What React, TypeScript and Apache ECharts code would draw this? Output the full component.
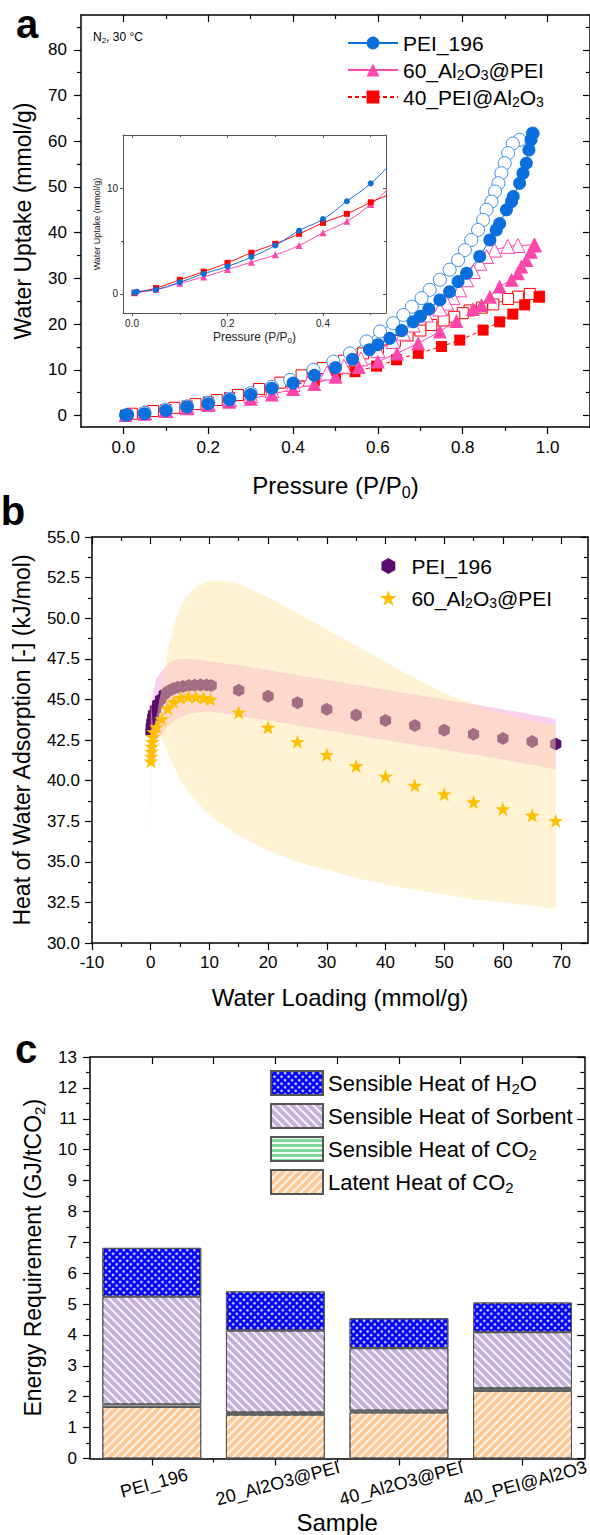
import React, { useEffect, useRef } from 'react';
import * as echarts from 'echarts';

const FONT = "'Liberation Sans', Arial, Helvetica, sans-serif";

// ---------------- Panel a : water isotherms ----------------
const pei196AdsP = [0.005, 0.01, 0.05, 0.1, 0.15, 0.2, 0.25, 0.3, 0.35, 0.4, 0.45, 0.5, 0.54, 0.58, 0.6, 0.628, 0.656, 0.683, 0.7, 0.72, 0.746, 0.769, 0.789, 0.809, 0.84, 0.864, 0.879, 0.887, 0.903, 0.915, 0.919, 0.934, 0.942, 0.95, 0.956, 0.961, 0.965];
const pei196AdsU = [0.1, 0.2, 0.4, 1.1, 1.9, 2.6, 3.5, 4.6, 6.0, 7.1, 8.8, 10.5, 12.3, 14.4, 15.5, 16.9, 18.6, 20.5, 21.7, 23.3, 25.3, 27.1, 29.3, 31.1, 34.8, 38.4, 40.6, 42.0, 45.0, 46.8, 47.9, 50.8, 53.0, 55.2, 58.1, 60.3, 61.7];
const pei196DesP = [0.965, 0.934, 0.918, 0.907, 0.899, 0.891, 0.884, 0.876, 0.868, 0.856, 0.848, 0.836, 0.82, 0.805, 0.789, 0.769, 0.746, 0.722, 0.703, 0.68, 0.66, 0.636, 0.605, 0.573, 0.534, 0.495, 0.448, 0.393, 0.35, 0.3, 0.25, 0.2, 0.15, 0.1, 0.05];
const pei196DesU = [61.7, 60.3, 59.5, 57.4, 55.2, 53.0, 50.8, 49.0, 46.8, 45.0, 42.8, 40.6, 38.4, 36.2, 34.0, 31.9, 29.7, 27.5, 25.7, 23.8, 22.0, 20.2, 18.4, 16.2, 13.6, 11.8, 10.0, 7.8, 6.3, 4.9, 3.7, 2.8, 2.0, 1.3, 0.6];

const al60AdsP = [0.005, 0.05, 0.1, 0.15, 0.2, 0.25, 0.3, 0.35, 0.4, 0.45, 0.5, 0.555, 0.6, 0.645, 0.695, 0.746, 0.785, 0.824, 0.844, 0.864, 0.887, 0.915, 0.93, 0.938, 0.95, 0.961, 0.969];
const al60AdsU = [0.1, 0.4, 1.0, 1.6, 2.3, 3.0, 3.7, 4.6, 5.8, 6.9, 8.5, 10.6, 11.8, 13.6, 15.8, 18.4, 20.7, 23.3, 24.2, 26.0, 28.2, 29.7, 31.1, 32.6, 34.0, 35.8, 37.3];
const al60DesP = [0.969, 0.93, 0.906, 0.875, 0.856, 0.84, 0.825, 0.809, 0.793, 0.777, 0.762, 0.746, 0.714, 0.683, 0.66, 0.636, 0.6, 0.56, 0.52, 0.48, 0.44, 0.4, 0.35, 0.3, 0.25, 0.2, 0.15, 0.1, 0.05];
const al60DesU = [37.3, 37.2, 37.0, 36.2, 34.8, 33.3, 31.5, 29.7, 27.5, 25.8, 24.6, 23.3, 22.0, 19.8, 18.0, 16.2, 14.2, 12.4, 10.8, 9.3, 8.0, 6.8, 5.5, 4.4, 3.4, 2.6, 1.8, 1.1, 0.6];

const pei40AdsP = [0.005, 0.05, 0.1, 0.15, 0.2, 0.25, 0.3, 0.35, 0.4, 0.45, 0.5, 0.546, 0.597, 0.644, 0.695, 0.75, 0.793, 0.848, 0.887, 0.918, 0.946, 0.98];
const pei40AdsU = [0.1, 0.54, 1.33, 2.1, 2.94, 3.9, 4.75, 5.7, 6.74, 7.6, 8.7, 9.6, 10.8, 12.2, 13.6, 15.1, 16.5, 18.7, 20.5, 22.2, 24.2, 26.0];
const pei40DesP = [0.98, 0.958, 0.93, 0.907, 0.872, 0.845, 0.816, 0.8, 0.78, 0.755, 0.726, 0.7, 0.67, 0.64, 0.6, 0.565, 0.52, 0.47, 0.42, 0.37, 0.32, 0.27, 0.22, 0.17, 0.12, 0.07, 0.02];
const pei40DesU = [26.0, 26.6, 26.0, 25.5, 24.3, 23.6, 23.0, 22.4, 21.6, 20.8, 19.8, 18.6, 17.5, 16.3, 14.8, 13.6, 12.0, 10.4, 8.8, 7.2, 5.8, 4.5, 3.4, 2.5, 1.7, 1.0, 0.4];

const aXMajor = [0, 0.2, 0.4, 0.6, 0.8, 1.0];
const aXMinor = [0.1, 0.3, 0.5, 0.7, 0.9];
const aYMajor = [0, 10, 20, 30, 40, 50, 60, 70, 80];
const aYMinor = [5, 15, 25, 35, 45, 55, 65, 75, 85];
const insetXMajor = [0, 0.2, 0.4];
const insetXMinor = [0.1, 0.3, 0.5];
const insetYMajor = [0, 10];
const insetYMinor = [5];

// ---------------- Panel b : heat of adsorption ----------------
const peiHeatX = [0.05, 0.1, 0.2, 0.35, 0.5, 0.8, 1.2, 1.7, 2.3, 3.0, 3.8, 4.6, 5.5, 6.5, 7.5, 8.5, 9.5, 10.3, 15, 20, 25, 30, 35, 40, 45, 50, 55, 60, 65, 69];
const peiHeatY = [43.0, 43.3, 43.6, 43.9, 44.1, 44.4, 44.7, 45.0, 45.3, 45.5, 45.65, 45.75, 45.8, 45.85, 45.87, 45.88, 45.88, 45.85, 45.57, 45.2, 44.8, 44.4, 44.04, 43.7, 43.4, 43.1, 42.85, 42.6, 42.4, 42.26];
const alHeatX = [0.05, 0.08, 0.12, 0.18, 0.25, 0.35, 0.5, 1.0, 1.9, 2.9, 3.9, 5.1, 6.4, 7.7, 9.0, 10.2, 15, 20, 25, 30, 35, 40, 45, 50, 55, 60, 65, 69];
const alHeatY = [41.2, 41.5, 41.8, 42.1, 42.4, 42.7, 43.0, 43.3, 43.8, 44.45, 44.85, 45.1, 45.18, 45.16, 45.1, 45.0, 44.2, 43.28, 42.4, 41.6, 40.9, 40.26, 39.7, 39.17, 38.68, 38.25, 37.86, 37.53];

const peiBandX = [0.2, 0.5, 1, 2, 3, 4, 5, 6.5, 8, 10, 15, 20, 30, 40, 50, 60, 69];
const peiBandLow = [43.2, 42.7, 42.5, 42.9, 43.4, 43.7, 43.9, 44.1, 44.2, 44.25, 44.0, 43.7, 43.1, 42.5, 41.9, 41.3, 40.7];
const peiBandHigh = [44.8, 45.6, 46.3, 46.8, 47.2, 47.4, 47.5, 47.5, 47.45, 47.35, 47.1, 46.8, 46.2, 45.6, 45.0, 44.4, 43.8];

const alBandX = [0, 0.15, 0.4, 1, 2, 3, 4, 5, 6, 7, 8, 10, 12.5, 15, 20, 25, 30, 35, 40, 45, 50, 55, 60, 65, 69];
const alBandLow = [36.2, 40.5, 42.0, 42.8, 42.6, 41.6, 40.8, 40.1, 39.5, 39.0, 38.6, 37.9, 37.2, 36.6, 35.7, 35.0, 34.5, 34.0, 33.6, 33.3, 33.0, 32.7, 32.5, 32.3, 32.1];
const alBandHigh = [46.6, 44.5, 43.2, 44.0, 46.0, 48.2, 49.6, 50.6, 51.3, 51.7, 52.0, 52.3, 52.3, 52.1, 51.3, 50.3, 49.3, 48.3, 47.3, 46.3, 45.4, 44.7, 44.1, 43.7, 43.4];

const bXMajor = [-10, 0, 10, 20, 30, 40, 50, 60, 70];
const bXMinor = [-5, 5, 15, 25, 35, 45, 55, 65];
const bYMajor = [30, 32.5, 35, 37.5, 40, 42.5, 45, 47.5, 50, 52.5, 55];
const bYMinor = [31.25, 33.75, 36.25, 38.75, 41.25, 43.75, 46.25, 48.75, 51.25, 53.75];

// ---------------- Panel c : energy requirement ----------------
const samples = ['PEI_196', '20_Al2O3@PEI', '40_Al2O3@PEI', '40_PEI@Al2O3'];
const latentCO2 = [1.67, 1.42, 1.49, 2.19];
const sensibleCO2 = [0.08, 0.07, 0.06, 0.08];
const sensibleSorbent = [3.49, 2.65, 2.02, 1.82];
const sensibleH2O = [1.58, 1.27, 0.97, 0.96];
const cYMajor = [0, 1, 2, 3, 4, 5, 6, 7, 8, 9, 10, 11, 12, 13];
const cYMinor = [0.5, 1.5, 2.5, 3.5, 4.5, 5.5, 6.5, 7.5, 8.5, 9.5, 10.5, 11.5, 12.5];
const cXBoundaries = [0.5, 1.5, 2.5];

// ---------------- helpers ----------------
const zip = (xs: number[], ys: number[]) => xs.map((x, i) => [x, ys[i]]);

const subRich = (size: number) => ({
  sub: {
    fontSize: Math.round(size * 0.66),
    fontFamily: FONT,
    color: '#000',
    verticalAlign: 'bottom',
    lineHeight: Math.round(size * 0.44),
  },
});

function vAxes(dim: 'x' | 'y', grid: number, min: number, max: number, majors: number[], minors: number[], o: any) {
  const mainPos = dim === 'x' ? 'bottom' : 'left';
  const mirPos = dim === 'x' ? 'top' : 'right';
  const lc = o.lineColor || '#000';
  const lw = o.lineWidth || 1.5;
  const base = { type: 'value', gridIndex: grid, min, max, splitLine: { show: false }, splitArea: { show: false } };
  const shown = { show: true, onZero: false, lineStyle: { color: lc, width: lw } };
  const hidden = { show: false, onZero: false };
  const tick = (vals: number[], len: number, inside: boolean) => ({
    show: true, customValues: vals, length: len, inside, lineStyle: { color: lc, width: o.tickWidth || 1.2 },
  });
  return [
    {
      ...base, position: mainPos, axisLine: shown, axisTick: tick(majors, o.majorLen, false),
      axisLabel: {
        show: true, customValues: majors, formatter: o.fmt, fontSize: o.labelSize, color: o.labelColor || '#000',
        fontFamily: FONT, margin: o.labelMargin,
      },
      name: o.name, nameLocation: 'middle', nameGap: o.nameGap,
      nameTextStyle: {
        fontSize: o.nameSize, fontFamily: FONT, color: o.labelColor || '#000', lineHeight: Math.round(o.nameSize * 1.2),
        rich: subRich(o.nameSize),
      },
    },
    { ...base, position: mainPos, axisLine: hidden, axisTick: tick(minors, o.minorLen, false), axisLabel: { show: false } },
    { ...base, position: mirPos, axisLine: shown, axisTick: tick(majors, o.majorLen, true), axisLabel: { show: false } },
    { ...base, position: mirPos, axisLine: hidden, axisTick: tick(minors, o.minorLen, true), axisLabel: { show: false } },
  ];
}

const BLUE = '#0a6fdc';
const BLUE_OPEN = '#3a8cec';
const PINK = '#ff46aa';
const RED = '#ff0000';
const HEX = 'path://M50,0 L93.3,25 L93.3,75 L50,100 L6.7,75 L6.7,25 Z';
const STAR = 'path://M50,0 L61.8,35.3 L98.9,35.6 L69.1,57.7 L80.2,93.2 L50,71.7 L19.8,93.2 L30.9,57.7 L1.1,35.6 L38.2,35.3 Z';

function lineSeries(name: string, data: number[][], color: string, symbol: string, size: number, filled: boolean,
  dashed: boolean, axis: number, smooth = false) {
  return {
    type: 'line', name, xAxisIndex: axis, yAxisIndex: axis, data, symbol, symbolSize: size, showAllSymbol: true,
    smooth, silent: true, emphasis: { disabled: true },
    lineStyle: { color, width: 1, type: dashed ? [4, 3] : 'solid' },
    itemStyle: filled ? { color, borderWidth: 0 } : { color: '#fff', borderColor: color, borderWidth: 1 },
  };
}

// confidence band drawn as one polygon through the axis scales
function bandSeries(name: string, xs: number[], lo: number[], hi: number[], fill: string, axis: number, z: number) {
  return {
    type: 'custom', name, xAxisIndex: axis, yAxisIndex: axis, silent: true, z,
    data: xs.map((x, i) => [x, lo[i], hi[i]]),
    encode: { x: 0, y: [1, 2] },
    renderItem: (params: any, api: any) => {
      if (params.dataIndex !== 0) return null;
      const pts: number[][] = [];
      for (let i = 0; i < xs.length; i++) pts.push(api.coord([xs[i], hi[i]]));
      for (let i = xs.length - 1; i >= 0; i--) pts.push(api.coord([xs[i], lo[i]]));
      return { type: 'polygon', shape: { points: pts }, style: { fill, stroke: 'none' }, silent: true };
    },
  };
}

const legendNames: Record<string, string> = {
  'PEI_196': 'PEI_196',
  '60_Al2O3@PEI': '60_Al{sub|2}O{sub|3}@PEI',
  '40_PEI@Al2O3': '40_PEI@Al{sub|2}O{sub|3}',
  'b:PEI_196': 'PEI_196',
  'b:60_Al2O3@PEI': '60_Al{sub|2}O{sub|3}@PEI',
  'Sensible Heat of H2O': 'Sensible Heat of H{sub|2}O',
  'Sensible Heat of Sorbent': 'Sensible Heat of Sorbent',
  'Sensible Heat of CO2': 'Sensible Heat of CO{sub|2}',
  'Latent Heat of CO2': 'Latent Heat of CO{sub|2}',
};

function buildOption(): any {
  const xAxis: any[] = [
    ...vAxes('x', 0, -0.1, 1.1, aXMajor, aXMinor, {
      fmt: (v: number) => v.toFixed(1), labelSize: 17, labelMargin: 12, name: 'Pressure (P/P{sub|0})', nameGap: 44,
      nameSize: 24, majorLen: 7, minorLen: 4,
    }),
    ...vAxes('x', 1, -0.019, 0.532, insetXMajor, insetXMinor, {
      fmt: (v: number) => v.toFixed(1), labelSize: 10, labelMargin: 5, name: 'Pressure (P/P{sub|0})', nameGap: 17,
      nameSize: 12, majorLen: 3, minorLen: 2, lineColor: '#555', lineWidth: 1, labelColor: '#222', tickWidth: 1,
    }),
    ...vAxes('x', 2, -10, 74.5, bXMajor, bXMinor, {
      fmt: (v: number) => String(v), labelSize: 17, labelMargin: 11, name: 'Water Loading (mmol/g)', nameGap: 40,
      nameSize: 24, majorLen: 7, minorLen: 4,
    }),
    {
      type: 'category', gridIndex: 3, data: samples, position: 'bottom',
      axisLine: { show: true, onZero: false, lineStyle: { color: '#000', width: 1.5 } },
      axisTick: { show: true, alignWithLabel: true, length: 7, lineStyle: { color: '#000', width: 1.2 } },
      axisLabel: {
        show: true, interval: 0, rotate: 15, align: 'center', verticalAlign: 'top', margin: 16, fontSize: 18,
        color: '#000', fontFamily: FONT,
      },
      name: 'Sample', nameLocation: 'middle', nameGap: 47,
      nameTextStyle: { fontSize: 24, fontFamily: FONT, color: '#000' },
    },
    {
      type: 'value', gridIndex: 3, min: -0.5, max: 3.5, position: 'bottom', splitLine: { show: false },
      axisLine: { show: false, onZero: false }, axisLabel: { show: false },
      axisTick: { show: true, customValues: cXBoundaries, length: 4, lineStyle: { color: '#000', width: 1.2 } },
    },
    {
      type: 'category', gridIndex: 3, data: samples, position: 'top',
      axisLine: { show: true, onZero: false, lineStyle: { color: '#000', width: 1.5 } },
      axisTick: { show: true, alignWithLabel: true, inside: true, length: 7, lineStyle: { color: '#000', width: 1.2 } },
      axisLabel: { show: false },
    },
    {
      type: 'value', gridIndex: 3, min: -0.5, max: 3.5, position: 'top', splitLine: { show: false },
      axisLine: { show: false, onZero: false }, axisLabel: { show: false },
      axisTick: { show: true, inside: true, customValues: cXBoundaries, length: 7, lineStyle: { color: '#000', width: 1.2 } },
    },
  ];

  const yAxis: any[] = [
    ...vAxes('y', 0, -2.5, 87.6, aYMajor, aYMinor, {
      fmt: (v: number) => String(v), labelSize: 17, labelMargin: 14, name: 'Water Uptake (mmol/g)', nameGap: 39,
      nameSize: 23, majorLen: 7, minorLen: 4,
    }),
    ...vAxes('y', 1, -1.83, 15.1, insetYMajor, insetYMinor, {
      fmt: (v: number) => String(v), labelSize: 10, labelMargin: 5, name: 'Water Uptake (mmol/g)', nameGap: 15,
      nameSize: 9, majorLen: 3, minorLen: 2, lineColor: '#555', lineWidth: 1, labelColor: '#222', tickWidth: 1,
    }),
    ...vAxes('y', 2, 30, 55, bYMajor, bYMinor, {
      fmt: (v: number) => v.toFixed(1), labelSize: 17, labelMargin: 12, name: 'Heat of Water Adsorption [-] (kJ/mol)',
      nameGap: 50, nameSize: 23, majorLen: 7, minorLen: 4,
    }),
    ...vAxes('y', 3, 0, 13, cYMajor, cYMinor, {
      fmt: (v: number) => String(v), labelSize: 17, labelMargin: 13, name: 'Energy Requirement (GJ/tCO{sub|2})',
      nameGap: 42, nameSize: 23, majorLen: 7, minorLen: 4,
    }),
  ];

  const series: any[] = [
    // panel a main (axis index 0)
    lineSeries('40_PEI@Al2O3 des', zip(pei40DesP, pei40DesU), RED, 'rect', 11, false, false, 0),
    lineSeries('40_PEI@Al2O3', zip(pei40AdsP, pei40AdsU), RED, 'rect', 11, true, true, 0),
    lineSeries('60_Al2O3@PEI des', zip(al60DesP, al60DesU), PINK, 'triangle', 14, false, false, 0),
    lineSeries('60_Al2O3@PEI', zip(al60AdsP, al60AdsU), PINK, 'triangle', 14, true, false, 0),
    lineSeries('PEI_196 des', zip(pei196DesP, pei196DesU), BLUE_OPEN, 'circle', 13, false, false, 0),
    lineSeries('PEI_196', zip(pei196AdsP, pei196AdsU), BLUE, 'circle', 13, true, false, 0),
    // inset (axis index 4)
    lineSeries('inset 60', zip(al60AdsP, al60AdsU), PINK, 'triangle', 7, true, false, 4, true),
    lineSeries('inset 40', zip(pei40AdsP, pei40AdsU), RED, 'rect', 6, true, false, 4, true),
    lineSeries('inset 196', zip(pei196AdsP, pei196AdsU), BLUE, 'circle', 6, true, false, 4, true),
    // panel b (axis index 8)
    bandSeries('pei band', peiBandX, peiBandLow, peiBandHigh, 'rgba(240,110,210,0.32)', 8, 1),
    {
      type: 'scatter', name: 'b:PEI_196', xAxisIndex: 8, yAxisIndex: 8, data: zip(peiHeatX, peiHeatY), symbol: HEX, z: 2,
      symbolSize: 13, symbolKeepAspect: true, silent: true, itemStyle: { color: '#5b0b6e', opacity: 1 },
    },
    bandSeries('al band', alBandX, alBandLow, alBandHigh, 'rgba(255,228,160,0.45)', 8, 3),
    {
      type: 'scatter', name: 'b:60_Al2O3@PEI', xAxisIndex: 8, yAxisIndex: 8, data: zip(alHeatX, alHeatY), symbol: STAR, z: 4,
      symbolSize: 15, symbolKeepAspect: true, silent: true, itemStyle: { color: '#ffc000', opacity: 1 },
    },
    // panel c (x axis 12, y axis 12)
    {
      type: 'bar', name: 'Latent Heat of CO2', xAxisIndex: 12, yAxisIndex: 12, stack: 'energy', data: latentCO2,
      barCategoryGap: '20%', silent: true,
      itemStyle: {
        color: '#ffc896', borderColor: '#555', borderWidth: 1,
        decal: { symbol: 'rect', dashArrayX: [1, 0], dashArrayY: [1.2, 3.5], rotation: -Math.PI / 4, color: 'rgba(255,255,255,0.85)' },
      },
    },
    {
      type: 'bar', name: 'Sensible Heat of CO2', xAxisIndex: 12, yAxisIndex: 12, stack: 'energy', data: sensibleCO2,
      barCategoryGap: '20%', silent: true,
      itemStyle: {
        color: '#7dd89a', borderColor: '#555', borderWidth: 1,
        decal: { symbol: 'rect', dashArrayX: [1, 0], dashArrayY: [1.5, 3], rotation: 0, color: 'rgba(255,255,255,0.9)' },
      },
    },
    {
      type: 'bar', name: 'Sensible Heat of Sorbent', xAxisIndex: 12, yAxisIndex: 12, stack: 'energy', data: sensibleSorbent,
      barCategoryGap: '20%', silent: true,
      itemStyle: {
        color: '#c4b0da', borderColor: '#555', borderWidth: 1,
        decal: { symbol: 'rect', dashArrayX: [1, 0], dashArrayY: [1.2, 3.5], rotation: Math.PI / 4, color: 'rgba(255,255,255,0.85)' },
      },
    },
    {
      type: 'bar', name: 'Sensible Heat of H2O', xAxisIndex: 12, yAxisIndex: 12, stack: 'energy', data: sensibleH2O,
      barCategoryGap: '20%', silent: true,
      itemStyle: {
        color: '#0000ff', borderColor: '#555', borderWidth: 1,
        decal: { symbol: 'circle', symbolSize: 0.85, dashArrayX: [2.5, 2], dashArrayY: [2.5, 2], rotation: Math.PI / 4, color: '#ffffff' },
      },
    },
  ];

  const legendText = (size: number) => ({
    fontSize: size, fontFamily: FONT, color: '#000', lineHeight: Math.round(size * 1.15), rich: subRich(size),
  });

  return {
    animation: false,
    backgroundColor: '#ffffff',
    textStyle: { fontFamily: FONT },
    grid: [
      { left: 81, top: 15, width: 510, height: 412 },
      { left: 123, top: 135, width: 263, height: 178 },
      { left: 87, top: 537, width: 501, height: 406 },
      { left: 90, top: 1057, width: 507, height: 408 },
    ],
    xAxis,
    yAxis,
    series,
    legend: [
      {
        data: ['PEI_196', '60_Al2O3@PEI', '40_PEI@Al2O3'], orient: 'vertical', left: 342, top: 26, itemWidth: 50,
        itemHeight: 16, itemGap: 3, selectedMode: false, formatter: (n: string) => legendNames[n] || n,
        textStyle: legendText(21),
      },
      {
        data: ['b:PEI_196', 'b:60_Al2O3@PEI'], orient: 'vertical', left: 375, top: 549, itemWidth: 36, itemHeight: 16,
        itemGap: 8, selectedMode: false, formatter: (n: string) => legendNames[n] || n, textStyle: legendText(21),
      },
      {
        data: ['Sensible Heat of H2O', 'Sensible Heat of Sorbent', 'Sensible Heat of CO2', 'Latent Heat of CO2'],
        orient: 'vertical', left: 265, top: 1065, itemWidth: 52, itemHeight: 24, itemGap: 7, icon: 'rect',
        selectedMode: false, formatter: (n: string) => legendNames[n] || n, textStyle: legendText(22),
      },
    ],
    graphic: [
      { type: 'text', x: 27, y: 24, style: { text: 'a', fill: '#000', font: `bold 40px ${FONT}`, align: 'center', verticalAlign: 'middle' } },
      { type: 'text', x: 13, y: 511, style: { text: 'b', fill: '#000', font: `bold 40px ${FONT}`, align: 'center', verticalAlign: 'middle' } },
      { type: 'text', x: 26, y: 1049, style: { text: 'c', fill: '#000', font: `bold 40px ${FONT}`, align: 'center', verticalAlign: 'middle' } },
      {
        type: 'text', x: 93, y: 37,
        style: {
          text: 'N{sub|2}, 30 °C', fill: '#000', font: `12px ${FONT}`, lineHeight: 14, align: 'left', verticalAlign: 'middle',
          rich: subRich(12),
        },
      },
    ],
  };
}

export default function App() {
  const ref = useRef<HTMLDivElement>(null);
  useEffect(() => {
    if (!ref.current) return;
    const chart = echarts.init(ref.current, null, { renderer: 'svg' });
    chart.setOption(buildOption());
    return () => chart.dispose();
  }, []);
  return (
    <div
      ref={ref}
      style={{ position: 'absolute', left: 0, top: 0, width: 590, height: 1535, background: '#fff', overflow: 'hidden' }}
    />
  );
}
